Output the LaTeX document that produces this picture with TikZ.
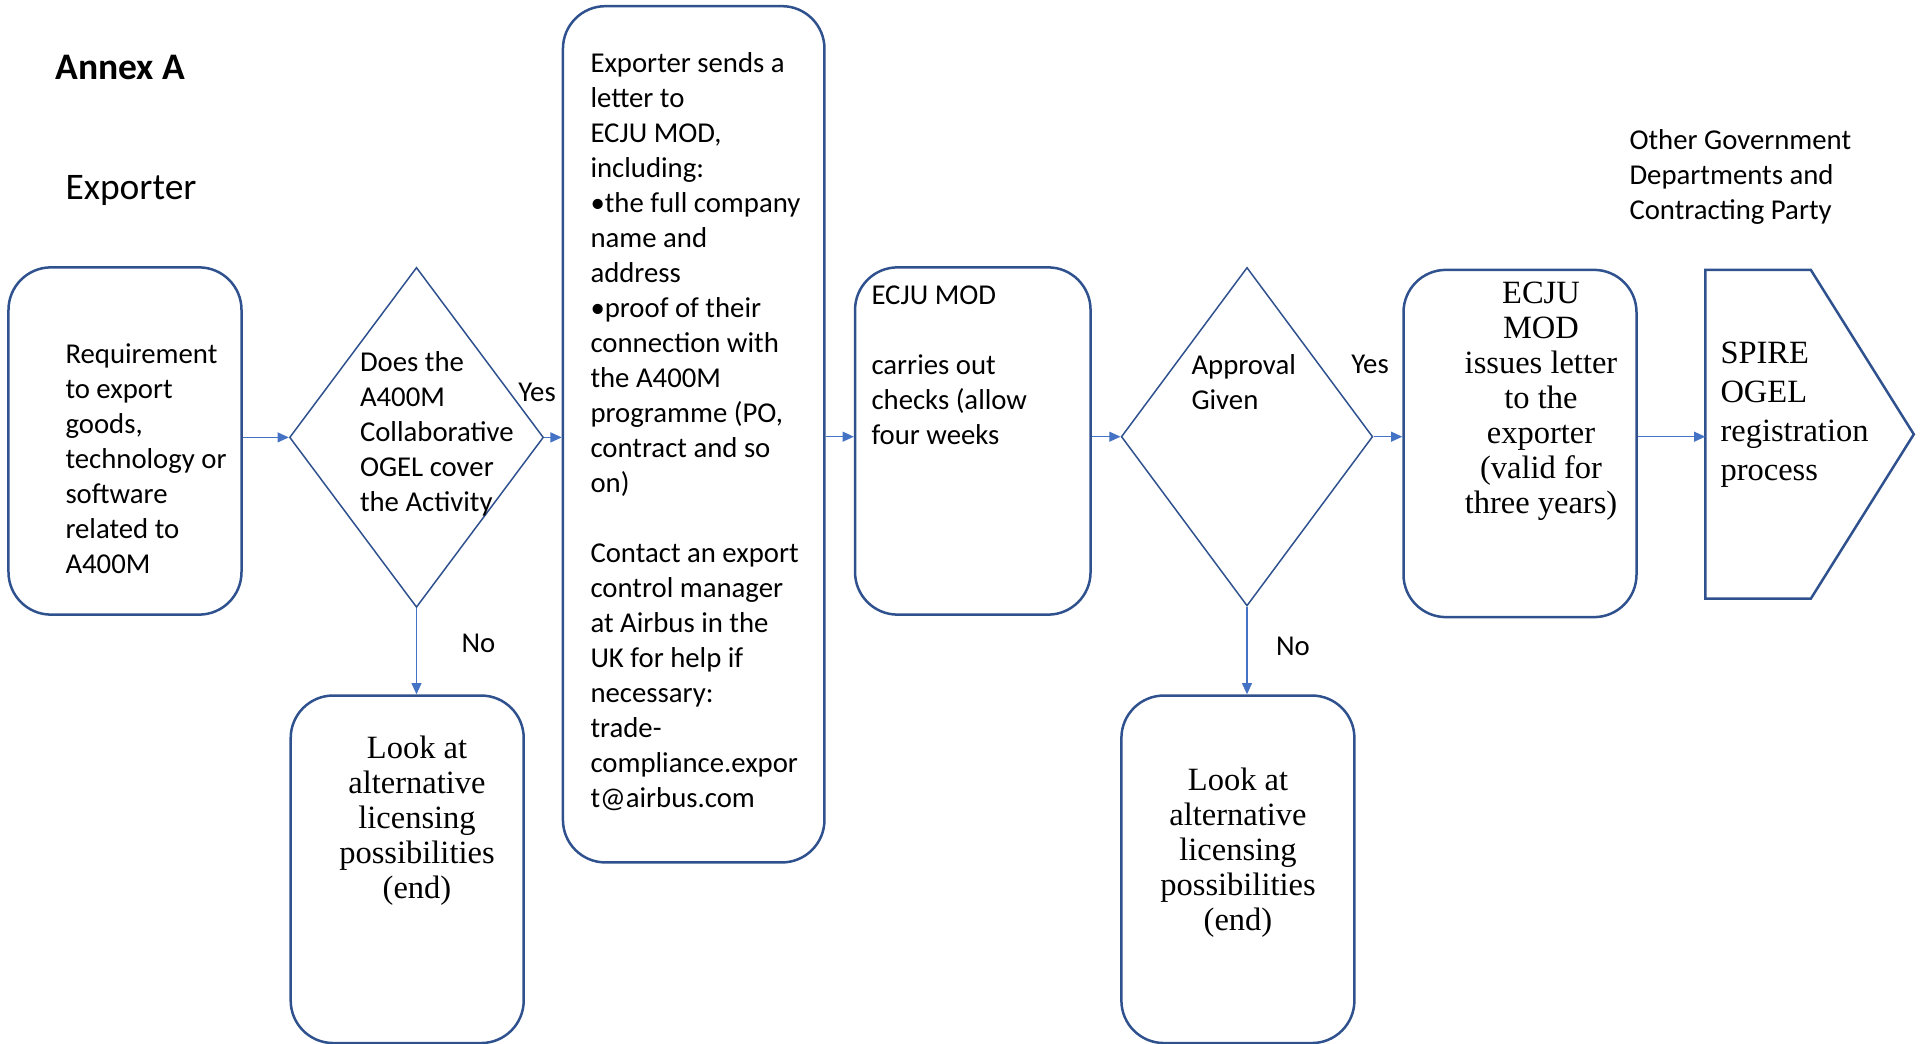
\documentclass[tikz,border=0pt]{standalone}
\usepackage{fontspec}
\setmainfont{Carlito}
\newfontfamily\seriffont{Liberation Serif}
\usetikzlibrary{shapes.geometric,arrows.meta}
\definecolor{boxblue}{HTML}{2F528F}
\definecolor{arrowblue}{HTML}{4472C4}
\tikzset{
  roundbox/.style={draw=boxblue, line width=1pt, rounded corners=17pt, minimum width=93.2pt, minimum height=138.9pt, inner sep=0pt},
  decision/.style={draw=boxblue, line width=0.6pt, diamond, inner sep=0pt},
  flow/.style={draw=arrowblue, line width=0.5pt, -{Triangle[length=4.5pt,width=4pt]}},
  lefttext/.style={anchor=west, align=left, inner sep=0pt, font=\fontsize{11.5}{14}\selectfont},
  serifcenter/.style={align=center, inner sep=0pt, font=\seriffont\fontsize{13}{14}\selectfont},
  heading/.style={anchor=west, inner sep=0pt, font=\fontsize{15}{18}\selectfont},
}
\begin{document}
\begin{tikzpicture}[x=0.4pt,y=-0.4pt]
  \useasboundingbox (0,0) rectangle (1920,1044);

  \node[roundbox] (req) at (125,441) {};
  \node[decision, minimum width=101.6pt, minimum height=136pt] (cover) at (416.5,437.4) {};
  \node[roundbox, minimum width=104.6pt, minimum height=342.5pt] (letter) at (693.7,434.3) {};
  \node[roundbox, minimum width=94.2pt] (checks) at (972.8,441) {};
  \node[decision, minimum width=100.6pt, minimum height=135.4pt] (approval) at (1247,436.7) {};
  \node[roundbox] (issue) at (1520,443.5) {};
  \node[roundbox, minimum height=139pt] (altone) at (407.2,869.3) {};
  \node[roundbox, minimum height=139pt] (alttwo) at (1237.9,869.3) {};

  \draw[boxblue, line width=1pt] (1705.3,269.9) -- (1810.8,269.9) -- (1913.8,434.3) -- (1810.8,598.7) -- (1705.3,598.7) -- cycle;
  \coordinate (spire) at (1705.3,436.7);

  \draw[flow] (req.east |- cover.west) -- (cover.west);
  \draw[flow] (cover.east) -- (letter.west |- cover.east);
  \draw[flow] (letter.east |- approval.west) -- (checks.west |- approval.west);
  \draw[flow] (checks.east |- approval.west) -- (approval.west);
  \draw[flow] (approval.east) -- (issue.west |- approval.east);
  \draw[flow] (issue.east |- approval.east) -- (spire);
  \draw[flow] (cover.south) -- (cover.south |- altone.north);
  \draw[flow] (approval.south) -- (approval.south |- alttwo.north);

  \node[heading, font=\bfseries\fontsize{15}{18}\selectfont] (annex) at (55,67.5) {Annex A};
  \node[heading] (exporter) at (65,190) {Exporter};
  \node[lefttext] (othergov) at (1629,177) {Other Government\\Departments and\\Contracting Party};

  \node[lefttext] (reqtext) at (65,459) {Requirement\\to export\\goods,\\technology or\\software\\related to\\A400M};
  \node[lefttext] (covertext) at (359.5,434.3) {Does the\\A400M\\Collaborative\\OGEL cover\\the Activity};
  \node[lefttext] (lettertext) at (590,431.8) {Exporter sends a\\letter to\\ECJU MOD,\\including:\\•the full company\\name and\\address\\•proof of their\\connection with\\the A400M\\programme (PO,\\contract and so\\on)\\[14pt]Contact an export\\control manager\\at Airbus in the\\UK for help if\\necessary:\\trade-\\compliance.expor\\t@airbus.com};
  \node[lefttext] (checkstext) at (871,365.6) {ECJU MOD\\[14pt]carries out\\checks (allow\\four weeks};
  \node[lefttext] (approvaltext) at (1191,381.7) {Approval\\Given};
  \node[serifcenter] (issuetext) at (1541,401) {ECJU\\MOD\\issues letter\\to the\\exporter\\(valid for\\three years)};
  \node[lefttext, font=\seriffont\fontsize{13}{15.7}\selectfont] (spiretext) at (1720,414.7) {SPIRE\\OGEL\\registration\\process};
  \node[serifcenter] (altonetext) at (417,821) {Look at\\alternative\\licensing\\possibilities\\(end)};
  \node[serifcenter] (alttwotext) at (1238,852.6) {Look at\\alternative\\licensing\\possibilities\\(end)};

  \foreach \name/\x/\y/\word in {yesone/537/392.6/Yes, yestwo/1370/364/Yes, noone/478.5/643/No, notwo/1293/646.5/No} {
    \node[inner sep=0pt, font=\fontsize{11.5}{14}\selectfont] (\name) at (\x,\y) {\word};
  }
\end{tikzpicture}
\end{document}
